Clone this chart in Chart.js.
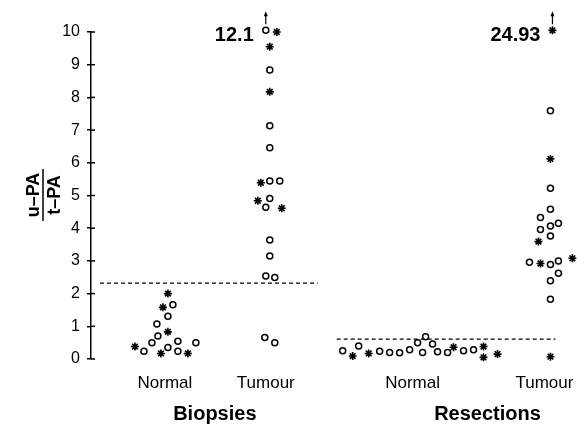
<!DOCTYPE html>
<html>
<head>
<meta charset="utf-8">
<script src="https://cdn.jsdelivr.net/npm/chart.js@4.4.1/dist/chart.umd.min.js"></script>
<style>
  html, body { margin: 0; padding: 0; background: #fff; }
</style>
</head>
<body>
<canvas id="chart" width="586" height="428"></canvas>
<script>
// Column positions on the x scale and their labels
const categories = ['Normal', 'Tumour', 'Normal', 'Tumour'];
const categoryX = [1.0, 2.02, 3.45, 4.83];
const labelX = [0.97, 1.98, 3.45, 4.77];
const groups = ['Biopsies', 'Resections'];
const groupX = [1.47, 4.2];
const yTicks = [0, 1, 2, 3, 4, 5, 6, 7, 8, 9, 10];

// Each point: [offset from the column, u-PA / t-PA ratio]
const biopsyNormalCircles = [[-0.24, 0.24], [-0.16, 0.50], [-0.10, 0.70], [-0.11, 1.07], [0.0, 1.31],
  [0.05, 1.66], [0.0, 0.35], [0.10, 0.54], [0.10, 0.24], [0.28, 0.50]];
const biopsyNormalStars = [[-0.33, 0.38], [-0.07, 0.17], [0.0, 0.83], [-0.05, 1.58], [0.0, 2.0], [0.20, 0.17]];

const biopsyTumourCircles = [[-0.04, 12.1], [0.0, 8.84], [0.0, 7.13], [0.0, 6.46], [0.0, 5.44], [0.10, 5.44],
  [0.0, 4.91], [-0.04, 4.64], [0.0, 3.64], [0.0, 3.15], [-0.04, 2.54], [0.05, 2.49], [-0.05, 0.66], [0.05, 0.50]];
const biopsyTumourStars = [[0.07, 10.0], [0.0, 9.55], [0.0, 8.17], [-0.09, 5.39], [-0.12, 4.84], [0.12, 4.61]];

const resectionNormalCircles = [[-0.70, 0.25], [-0.54, 0.40], [-0.33, 0.24], [-0.23, 0.20], [-0.13, 0.19],
  [-0.03, 0.28], [0.05, 0.50], [0.13, 0.68], [0.10, 0.20], [0.20, 0.46], [0.25, 0.22], [0.35, 0.20],
  [0.51, 0.25], [0.61, 0.28]];
const resectionNormalStars = [[-0.60, 0.09], [-0.44, 0.17], [0.41, 0.36], [0.71, 0.38], [0.71, 0.05], [0.85, 0.15]];

const resectionTumourCircles = [[0.0, 7.59], [0.0, 5.22], [0.0, 4.58], [-0.10, 4.33], [-0.10, 3.96], [0.0, 4.07],
  [0.08, 4.15], [0.0, 3.76], [-0.21, 2.96], [0.0, 2.89], [0.08, 3.00], [0.0, 2.39], [0.08, 2.62], [0.0, 1.83]];
const resectionTumourStars = [[0.02, 24.93], [0.0, 6.12], [-0.12, 3.59], [-0.10, 2.92], [0.22, 3.08], [0.0, 0.07]];

// Dashed cut-off lines
const biopsyCutoff = 2.32;
const resectionCutoff = 0.61;
const cutoffSpan = [[0.32, 2.50], [2.69, 4.88]];

const yMax = 10;
const topShown = 10.05; // off-scale values sit here with an arrow

const FONT = "'Liberation Sans', Arial, Helvetica, sans-serif";

function points(arr, col) {
  return arr.map(function (p) {
    return { x: categoryX[col] + p[0], y: Math.min(p[1], topShown), real: p[1] };
  });
}

function circleSet(arr, col) {
  return {
    type: 'scatter', data: points(arr, col), pointStyle: 'circle',
    pointRadius: 3, pointHoverRadius: 3, borderColor: '#000', backgroundColor: '#fff',
    borderWidth: 1.5, pointHoverBorderWidth: 1.5, clip: false
  };
}

function starSet(arr, col) {
  return {
    type: 'scatter', data: points(arr, col), pointStyle: 'star',
    pointRadius: 4, pointHoverRadius: 4, borderColor: '#000', backgroundColor: '#000',
    borderWidth: 1.6, pointHoverBorderWidth: 1.6, clip: false
  };
}

function cutoffSet(value, span) {
  return {
    type: 'line', data: [{ x: span[0], y: value }, { x: span[1], y: value }],
    borderColor: '#000', borderWidth: 1.3, borderDash: [4, 3], pointRadius: 0, clip: false
  };
}

// Extra drawing: inner tick halves, axis title, category labels, arrows
const decorations = {
  id: 'decorations',
  afterDatasetsDraw(chart) {
    const ctx = chart.ctx;
    const x = chart.scales.x;
    const y = chart.scales.y;
    ctx.save();
    ctx.strokeStyle = '#000';
    ctx.fillStyle = '#000';

    // tick marks cross the axis
    ctx.lineWidth = 1.5;
    yTicks.forEach(function (t) {
      const py = y.getPixelForValue(t);
      ctx.beginPath();
      ctx.moveTo(chart.chartArea.left, py);
      ctx.lineTo(chart.chartArea.left + 4, py);
      ctx.stroke();
    });

    // y axis title as a fraction
    ctx.save();
    ctx.translate(43, 195);
    ctx.rotate(-Math.PI / 2);
    ctx.font = 'bold 18px ' + FONT;
    ctx.textAlign = 'center';
    ctx.textBaseline = 'alphabetic';
    ctx.fillText('u\u2013PA', 0, -4);
    ctx.fillText('t\u2013PA', 0, 17);
    ctx.lineWidth = 1.5;
    ctx.beginPath();
    ctx.moveTo(-26, 0);
    ctx.lineTo(26, 0);
    ctx.stroke();
    ctx.restore();

    // category and group labels
    ctx.textAlign = 'center';
    ctx.textBaseline = 'alphabetic';
    ctx.font = '17px ' + FONT;
    categories.forEach(function (c, i) {
      ctx.fillText(c, x.getPixelForValue(labelX[i]), 388);
    });
    ctx.font = 'bold 20px ' + FONT;
    groups.forEach(function (g, i) {
      ctx.fillText(g, x.getPixelForValue(groupX[i]), 420);
    });

    // off-scale values
    ctx.font = 'bold 20px ' + FONT;
    ctx.textAlign = 'right';
    chart.data.datasets.forEach(function (ds) {
      if (ds.type !== 'scatter') return;
      ds.data.forEach(function (p) {
        if (p.real <= yMax) return;
        const px = x.getPixelForValue(p.x);
        const py = y.getPixelForValue(p.y);
        ctx.lineWidth = 1.2;
        ctx.beginPath();
        ctx.moveTo(px, py - 6);
        ctx.lineTo(px, py - 15);
        ctx.stroke();
        ctx.beginPath();
        ctx.moveTo(px, py - 19);
        ctx.lineTo(px - 2, py - 14);
        ctx.lineTo(px + 2, py - 14);
        ctx.closePath();
        ctx.fill();
        ctx.fillText(String(p.real), px - 12, py + 11);
      });
    });
    ctx.restore();
  }
};

new Chart(document.getElementById('chart'), {
  type: 'scatter',
  data: {
    datasets: [
      cutoffSet(biopsyCutoff, cutoffSpan[0]),
      cutoffSet(resectionCutoff, cutoffSpan[1]),
      circleSet(biopsyNormalCircles, 0),
      starSet(biopsyNormalStars, 0),
      circleSet(biopsyTumourCircles, 1),
      starSet(biopsyTumourStars, 1),
      circleSet(resectionNormalCircles, 2),
      starSet(resectionNormalStars, 2),
      circleSet(resectionTumourCircles, 3),
      starSet(resectionTumourStars, 3)
    ]
  },
  options: {
    responsive: false,
    animation: false,
    layout: { padding: { top: 32, bottom: 69, left: 0, right: 0 } },
    plugins: { legend: { display: false }, tooltip: { enabled: false } },
    scales: {
      x: { type: 'linear', display: false, min: 0.23, max: 5.13 },
      y: {
        min: 0, max: yMax,
        afterFit: function (scale) { scale.width = 91; },
        afterBuildTicks: function (scale) { scale.ticks = yTicks.map(function (v) { return { value: v }; }); },
        border: { display: true, color: '#000', width: 1.5 },
        grid: { display: true, drawOnChartArea: false, drawTicks: true, tickLength: 4, color: '#000', lineWidth: 1.5 },
        ticks: { color: '#000', padding: 7, font: { family: FONT, size: 16 } }
      }
    }
  },
  plugins: [decorations]
});
</script>
</body>
</html>
